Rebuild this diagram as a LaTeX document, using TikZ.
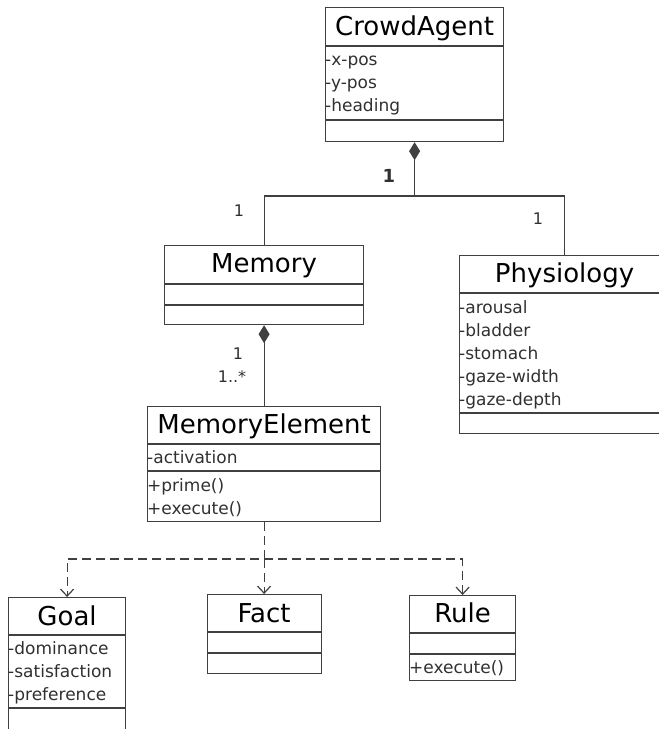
\documentclass[tikz,border=0pt]{standalone}
\usepackage{fontspec}
\setmainfont{DejaVu Sans}
\usetikzlibrary{arrows.meta,calc,positioning}
\definecolor{umlline}{HTML}{404040}
\definecolor{umltext}{HTML}{303030}
\tikzset{
    classbox/.style={
           rectangle,
           draw=umlline, line width=1.2pt,
           anchor=north west,
           inner sep=0,
           },
    title/.style={
           anchor=base,
           inner sep=0,
           font=\fontsize{26}{30}\selectfont,
           },
    attr/.style={
           anchor=base west,
           inner sep=0,
           text=umltext,
           font=\fontsize{17}{20}\selectfont,
           },
    mult/.style={
           anchor=base,
           inner sep=0,
           text=umltext,
           font=\fontsize{16}{20}\selectfont,
           },
    sep/.style={
           line width=1.2pt,
           draw=umlline,
           },
    comp/.style={
           sep,
           {Diamond[length=18pt,width=11pt]}-,
           },
    dep/.style={
           sep,
           -{Straight Barb[length=7pt,width=13pt]},
           dash pattern=on 9pt off 5pt,
           },
}

\begin{document}
\begin{tikzpicture}[x=1pt,y=-1pt]
\useasboundingbox (0,0) rectangle (659,729);
\node[classbox, minimum width=178, minimum height=134] (crowd) at (325,7) {};
\node[classbox, minimum width=199, minimum height=79] (mem) at (164,245) {};
\node[classbox, minimum width=210, minimum height=178] (phys) at (459,255) {};
\node[classbox, minimum width=233, minimum height=115] (memel) at (147,406) {};
\node[classbox, minimum width=117, minimum height=140] (goal) at (8,597) {};
\node[classbox, minimum width=114, minimum height=79] (fact) at (206.5,594) {};
\node[classbox, minimum width=106, minimum height=85] (rule) at (409,595) {};
\draw[sep] (crowd.west |- 0,46) -- (crowd.east |- 0,46);
\draw[sep] (crowd.west |- 0,120) -- (crowd.east |- 0,120);
\draw[sep] (mem.west |- 0,284) -- (mem.east |- 0,284);
\draw[sep] (mem.west |- 0,305) -- (mem.east |- 0,305);
\draw[sep] (phys.west |- 0,293) -- (phys.east |- 0,293);
\draw[sep] (phys.west |- 0,413) -- (phys.east |- 0,413);
\draw[sep] (memel.west |- 0,444) -- (memel.east |- 0,444);
\draw[sep] (memel.west |- 0,471) -- (memel.east |- 0,471);
\draw[sep] (goal.west |- 0,635) -- (goal.east |- 0,635);
\draw[sep] (goal.west |- 0,708) -- (goal.east |- 0,708);
\draw[sep] (fact.west |- 0,632) -- (fact.east |- 0,632);
\draw[sep] (fact.west |- 0,653) -- (fact.east |- 0,653);
\draw[sep] (rule.west |- 0,633) -- (rule.east |- 0,633);
\draw[sep] (rule.west |- 0,654) -- (rule.east |- 0,654);
\node[title] (crowdT) at (crowd.south |- 0,35) {CrowdAgent};
\node[title] (memT) at (mem.south |- 0,272) {Memory};
\node[title] (physT) at (phys.south |- 0,282) {Physiology};
\node[title] (memelT) at (memel.south |- 0,433) {MemoryElement};
\node[title] (goalT) at (goal.south |- 0,625) {Goal};
\node[title] (factT) at (fact.south |- 0,622) {Fact};
\node[title] (ruleT) at (rule.south |- 0,622) {Rule};
\foreach \t [count=\i] in {x-pos,y-pos,heading}
  \node[attr, name=crowdA\i] at (325,42+23*\i) {-\t};
\foreach \t [count=\i] in {arousal,bladder,stomach,gaze-width,gaze-depth}
  \node[attr, name=physA\i] at (459,290+23*\i) {-\t};
\foreach \t [count=\i] in {dominance,satisfaction,preference}
  \node[attr, name=goalA\i] at (8,631+23*\i) {-\t};
\node[attr] (memelA1) at (147,463) {-activation};
\node[attr] (memelO1) at (147,491) {+prime()};
\node[attr] (memelO2) at (147,514) {+execute()};
\node[attr] (ruleO1) at (409,673) {+execute()};
\coordinate (join) at (crowd.south |- 0,196);
\draw[comp] (crowd.south) -- (join) -| (mem.north);
\draw[sep] (join) -| (phys.north);
\draw[comp] (mem.south) -- (memel.north);
\coordinate (fork) at (memel.south |- 0,559);
\draw[dep] (memel.south) -- (fork) -| (goal.north);
\draw[dep] (fork) -- (fact.north);
\draw[dep] (fork) -| (rule.north);
\node[mult, font=\bfseries\fontsize{18}{20}\selectfont] (mult1) at (389,182) {1};
\node[mult] (mult2) at (239,216) {1};
\node[mult] (mult3) at (538,224) {1};
\node[mult] (mult4) at (238,359) {1};
\node[mult] (mult5) at (232,382) {1..*};
\end{tikzpicture}
\end{document}
